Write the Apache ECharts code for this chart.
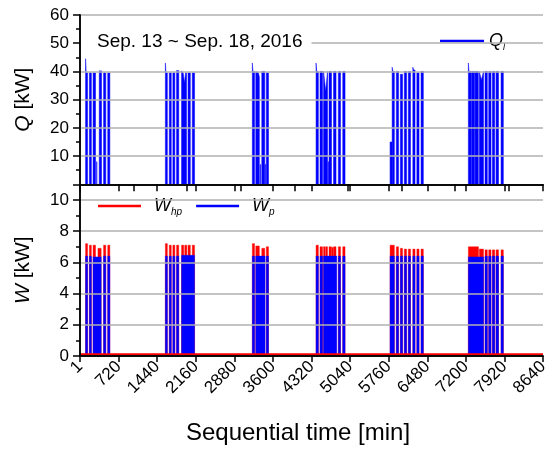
<!DOCTYPE html>
<html><head><meta charset="utf-8">
<script src="https://cdn.jsdelivr.net/npm/echarts@6/dist/echarts.min.js"></script>
<style>html,body{margin:0;padding:0;background:#fff}#c{width:555px;height:453px}</style>
</head><body><div id="c"></div>
<script>
// ---- data (time in minutes, power in kW) ----
const xTickValues = [0,720,1440,2160,2880,3600,4320,5040,5760,6480,7200,7920,8640];
const xTickLabels = ['1','720','1440','2160','2880','3600','4320','5040','5760','6480','7200','7920','8640'];
const timeStart = 1, timeEnd = 8640;

// Q_l: top profile of each operating pulse, [time, kW]
const qPulses = [
  // Sep. 13
  [[104,44.5],[116,39.5],[141,39.5]], [[175,39.5],[212,39.5]], [[244,39.5],[290,39.5]], [[310,8],[316,8]],
  [[359,40.2],[402,40.2]], [[440,39.5],[481,39.5]], [[518,39.5],[557,39.5]],
  // Sep. 14
  [[1593,43],[1605,39.5],[1630,39.5]], [[1666,39.5],[1703,39.5]], [[1733,39.5],[1770,39.5]], [[1802,40.3],[1843,40.3]],
  [[1895,40.2],[1925,39.5],[1950,36],[1970,39.5],[1988,39.5]], [[2016,39.5],[2059,39.5]], [[2095,39.5],[2138,39.5]],
  // Sep. 15
  [[3216,43],[3228,40],[3257,40]], [[3280,40],[3330,39.5],[3347,38]], [[3362,7],[3372,7]],
  [[3392,40],[3448,40]], [[3458,7],[3466,7]], [[3477,39.5],[3518,39.5]],
  // Sep. 16
  [[4405,43],[4417,40],[4448,40]], [[4479,40],[4526,40]], [[4545,40],[4585,33],[4619,40]], [[4628,8],[4636,8]],
  [[4647,40],[4694,40]], [[4731,40],[4778,40]], [[4821,40],[4862,40]], [[4903,40],[4946,40]],
  // Sep. 17
  [[5786,15],[5823,15]], [[5825,41.5],[5840,40],[5866,40]], [[5903,40],[5944,40]], [[5978,39],[6019,39]],
  [[6052,40],[6094,40]], [[6127,40],[6168,40]], [[6211,41.5],[6225,40.5],[6252,40.5]], [[6286,39.5],[6327,39.5]], [[6364,40],[6407,40]],
  // Sep. 18
  [[7247,43],[7259,40],[7297,40]], [[7306,40],[7362,40]], [[7372,40],[7433,40]], [[7452,40],[7490,37],[7530,40]],
  [[7558,40],[7601,40]], [[7627,40],[7670,40]], [[7695,40],[7739,40]], [[7764,40],[7810,40]], [[7857,40],[7900,40]]
];
const qOff = 0;

// W_hp: [on, off, kW]
const whpPulses = [
  [104,141,7.2],[175,212,7.1],[244,290,7.1],[335,395,6.9],[440,481,7.1],[518,557,7.1],
  [1593,1630,7.2],[1666,1703,7.1],[1733,1770,7.1],[1802,1843,7.1],[1895,1936,7.1],[1955,1994,7.1],[2016,2059,7.1],[2095,2138,7.1],
  [3216,3257,7.2],[3280,3347,7.05],[3392,3448,6.9],[3477,3518,7.0],
  [4405,4448,7.1],[4479,4526,7.0],[4545,4580,7.0],[4590,4619,7.0],[4647,4694,7.0],[4700,4725,6.95],[4731,4778,7.0],[4821,4862,7.0],[4903,4946,7.0],
  [5786,5866,7.1],[5903,5944,7.0],[5978,6019,6.9],[6052,6094,6.85],[6127,6168,6.85],[6211,6252,6.85],[6286,6327,6.85],[6364,6407,6.85],
  [7247,7437,7.0],[7452,7530,6.85],[7558,7601,6.8],[7627,7670,6.8],[7695,7739,6.8],[7764,7810,6.8],[7857,7900,6.8]
];
const whpOff = 0.15;

// W_p: [on, off, kW]
const wpPulses = [
  [104,141,6.4],[175,212,6.4],[244,395,6.35],[440,481,6.4],[518,557,6.4],
  [1593,1630,6.4],[1666,1703,6.4],[1733,1770,6.4],[1802,1843,6.4],[1895,2138,6.45],
  [3216,3257,6.4],[3280,3453,6.4],[3477,3518,6.4],
  [4405,4448,6.4],[4479,4526,6.4],[4545,4791,6.4],[4821,4862,6.4],[4903,4946,6.4],
  [5786,5866,6.4],[5903,5944,6.4],[5978,6019,6.4],[6052,6094,6.4],[6127,6168,6.4],[6211,6252,6.4],[6286,6327,6.4],[6364,6407,6.4],
  [7247,7530,6.35],[7558,7601,6.4],[7627,7670,6.4],[7695,7739,6.4],[7764,7810,6.4],[7857,7900,6.4]
];
const wpOff = 0;

const FONT = 'Liberation Sans, Arial, sans-serif';
const BLACK = '#000';
const GRIDC = '#b0b0b0';
const BLUE = '#0000ff', RED = '#ff0000';
const axLine = { show: true, lineStyle: { color: BLACK, width: 1.5 } };

// polygon for each Q pulse, through the axis scales
function qRender(params, api) {
  const p = qPulses[params.dataIndex];
  const pts = [api.coord([p[0][0], qOff])];
  p.forEach(v => pts.push(api.coord(v)));
  pts.push(api.coord([p[p.length - 1][0], qOff]));
  return { type: 'polygon', shape: { points: pts }, style: { fill: BLUE, stroke: BLUE, lineWidth: 0.5 } };
}
function rectRender(table, base, color) {
  return (params, api) => {
    const [on, off, v] = table[params.dataIndex];
    const a = api.coord([on, v]), b = api.coord([off, base]);
    return { type: 'rect', shape: { x: a[0], y: a[1], width: b[0] - a[0], height: b[1] - a[1] },
      style: { fill: color, stroke: color, lineWidth: 0.4 } };
  };
}

const chart = echarts.init(document.getElementById('c'), null, { renderer: 'canvas' });
chart.setOption({
  animation: false,
  textStyle: { fontFamily: FONT, color: BLACK },
  title: {
    text: 'Sep. 13 ~ Sep. 18, 2016', left: 81, top: 28, padding: [4, 9, 4, 16], backgroundColor: '#fff',
    textStyle: { fontFamily: FONT, fontSize: 19, fontWeight: 'normal', color: BLACK, lineHeight: 20 }
  },
  legend: [
    {
      data: ['Q_l'], left: 425, top: 28, padding: [4, 32, 4, 15], backgroundColor: '#fff',
      icon: 'rect', itemWidth: 44, itemHeight: 2.5,
      formatter: () => '{i|Q}{s|l}',
      textStyle: { color: BLACK, fontFamily: FONT, rich: {
        i: { fontSize: 18, fontStyle: 'italic', lineHeight: 22 },
        s: { fontSize: 9, fontStyle: 'italic', verticalAlign: 'bottom', lineHeight: 9 } } }
    },
    {
      data: ['W_hp', 'W_p'], left: 81, top: 193, padding: [4, 32, 4, 17], backgroundColor: '#fff',
      icon: 'rect', itemWidth: 43, itemHeight: 2.5, itemGap: 14,
      formatter: n => n === 'W_hp' ? '{i|W}{s|hp}' : '{i|W}{s|p}',
      textStyle: { color: BLACK, fontFamily: FONT, padding: [0, 0, 0, 8], rich: {
        i: { fontSize: 18, fontStyle: 'italic', lineHeight: 22 },
        s: { fontSize: 10, fontStyle: 'italic', verticalAlign: 'bottom', lineHeight: 9 } } }
    }
  ],
  grid: [
    { left: 80, right: 12, top: 15, height: 169.3 },
    { left: 80, right: 12, top: 184.3, height: 171.7 }
  ],
  xAxis: [
    { gridIndex: 0, type: 'value', min: 0, max: 8640, interval: 720, position: 'bottom', z: 5,
      axisLine: axLine, axisTick: { show: true, inside: false, length: 7, lineStyle: { color: BLACK, width: 1.5 } },
      axisLabel: { show: false }, splitLine: { show: false } },
    { gridIndex: 0, type: 'value', min: 0, max: 8640, interval: 1000, position: 'top', z: 5,
      axisLine: axLine, axisTick: { show: true, inside: true, length: 7, lineStyle: { color: BLACK, width: 1.5 } },
      axisLabel: { show: false }, splitLine: { show: false } },
    { gridIndex: 1, type: 'value', min: 0, max: 8640, interval: 720, position: 'bottom', z: 5,
      axisLine: axLine, axisTick: { show: true, inside: false, length: 6, lineStyle: { color: BLACK, width: 1.5 } },
      axisLabel: { rotate: 45, fontSize: 17, color: BLACK, margin: 8, fontFamily: FONT,
        formatter: v => { const i = xTickValues.indexOf(v); return i >= 0 ? xTickLabels[i] : ''; } },
      splitLine: { show: false },
      name: 'Sequential time [min]', nameLocation: 'middle', nameGap: 65,
      nameTextStyle: { fontSize: 24, color: BLACK, fontFamily: FONT, padding: [0, 27, 0, 0] } },
    { gridIndex: 1, type: 'value', min: 0, max: 8640, interval: 720, position: 'top', z: 5,
      axisLine: axLine, axisTick: { show: false }, axisLabel: { show: false }, splitLine: { show: false } }
  ],
  yAxis: [
    { gridIndex: 0, type: 'value', min: 0, max: 60, interval: 10, position: 'left', z: 5,
      axisLine: axLine, axisTick: { show: true, inside: false, length: 7, lineStyle: { color: BLACK, width: 1.5 } },
      minorTick: { show: true, splitNumber: 2, length: 4, lineStyle: { color: BLACK, width: 1.5 } },
      axisLabel: { fontSize: 17, color: BLACK, margin: 11, fontFamily: FONT, formatter: v => v === 0 ? '' : String(v) },
      splitLine: { show: true, lineStyle: { color: GRIDC, width: 1.5 } },
      name: '{i|Q} [kW]', nameLocation: 'middle', nameGap: 46,
      nameTextStyle: { fontSize: 21, color: BLACK, fontFamily: FONT, rich: { i: { fontSize: 21, fontStyle: 'italic' } } } },
    { gridIndex: 0, type: 'value', min: 0, max: 60, interval: 10, position: 'right', z: 5,
      axisLine: axLine, axisTick: { show: true, inside: true, length: 7, lineStyle: { color: BLACK, width: 1.5 } },
      minorTick: { show: true, splitNumber: 2, length: 4, lineStyle: { color: BLACK, width: 1.5 } },
      axisLabel: { show: false }, splitLine: { show: false } },
    { gridIndex: 1, type: 'value', min: 0, max: 11, interval: 2, position: 'left', z: 5,
      axisLine: axLine, axisTick: { show: true, inside: false, length: 7, lineStyle: { color: BLACK, width: 1.5 } },
      minorTick: { show: true, splitNumber: 2, length: 4, lineStyle: { color: BLACK, width: 1.5 } },
      axisLabel: { fontSize: 17, color: BLACK, margin: 11, fontFamily: FONT, formatter: v => v > 10 ? '' : String(v) },
      splitLine: { show: true, lineStyle: { color: GRIDC, width: 1.5 } },
      name: '{i|W} [kW]', nameLocation: 'middle', nameGap: 46,
      nameTextStyle: { fontSize: 21, color: BLACK, fontFamily: FONT, rich: { i: { fontSize: 21, fontStyle: 'italic' } } } },
    { gridIndex: 1, type: 'value', min: 0, max: 11, interval: 2, position: 'right', z: 5,
      axisLine: axLine, axisTick: { show: true, inside: true, length: 7, lineStyle: { color: BLACK, width: 1.5 } },
      minorTick: { show: true, splitNumber: 2, length: 4, lineStyle: { color: BLACK, width: 1.5 } },
      axisLabel: { show: false }, splitLine: { show: false } }
  ],
  series: [
    { name: 'Q_l', type: 'custom', xAxisIndex: 0, yAxisIndex: 0, itemStyle: { color: BLUE },
      data: qPulses.map((p, i) => [p[0][0], p[0][1], i]), encode: { x: 0, y: 1 }, renderItem: qRender },
    { name: 'W_hp', type: 'line', xAxisIndex: 2, yAxisIndex: 2, data: [[timeStart, whpOff], [timeEnd, whpOff]],
      showSymbol: false, symbol: 'none', itemStyle: { color: RED },
      lineStyle: { color: RED, width: 0.8 }, areaStyle: { color: RED, opacity: 1 } },
    { name: 'W_hp', type: 'custom', xAxisIndex: 2, yAxisIndex: 2, itemStyle: { color: RED },
      data: whpPulses.map(p => [p[0], p[2]]), encode: { x: 0, y: 1 }, renderItem: rectRender(whpPulses, whpOff, RED) },
    { name: 'W_p', type: 'custom', xAxisIndex: 2, yAxisIndex: 2, itemStyle: { color: BLUE },
      data: wpPulses.map(p => [p[0], p[2]]), encode: { x: 0, y: 1 }, renderItem: rectRender(wpPulses, wpOff, BLUE) }
  ]
});
</script></body></html>
